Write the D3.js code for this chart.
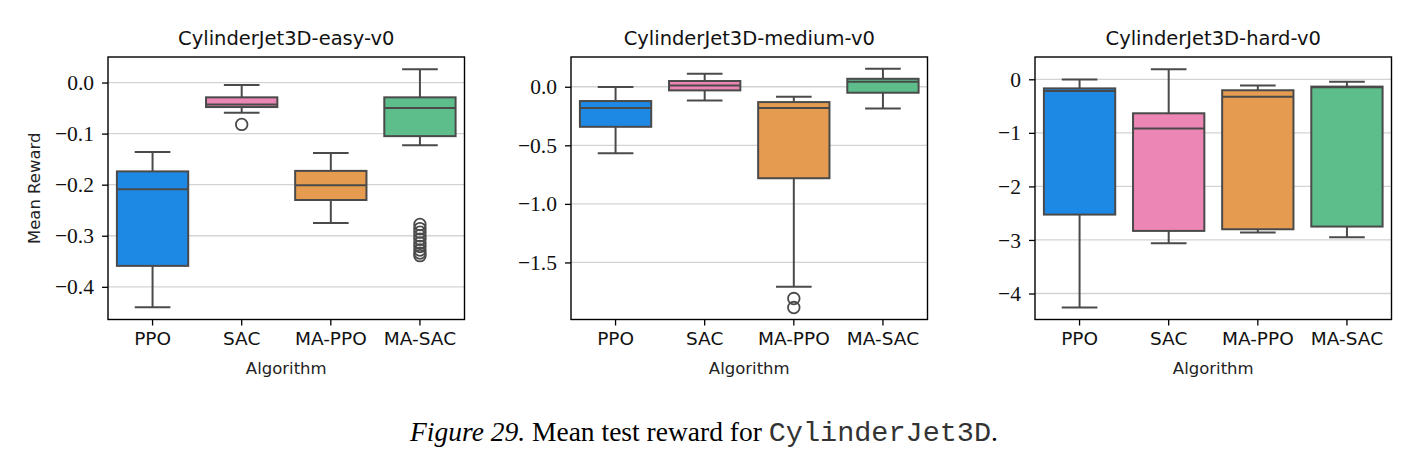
<!DOCTYPE html>
<html>
<head>
<meta charset="utf-8">
<script src="https://cdn.jsdelivr.net/npm/d3@7"></script>
<style>
  html, body { margin: 0; padding: 0; background: #ffffff; }
  svg { display: block; }
</style>
</head>
<body>
<svg id="chart" width="1414" height="461"></svg>
<script>
// ---------------- DATA ----------------
const algorithms = ["PPO", "SAC", "MA-PPO", "MA-SAC"];
const colors = ["#1e88e5", "#ec87b5", "#e59c50", "#5dbd8b"];
const panelTitles = ["CylinderJet3D-easy-v0", "CylinderJet3D-medium-v0", "CylinderJet3D-hard-v0"];

// easy
const easyLow    = [-0.440, -0.059, -0.275, -0.123];
const easyQ1     = [-0.359, -0.048, -0.230, -0.105];
const easyMedian = [-0.209, -0.043, -0.201, -0.050];
const easyQ3     = [-0.174, -0.029, -0.173, -0.029];
const easyHigh   = [-0.136, -0.005, -0.138,  0.026];
const easyOutliers = [[], [-0.082], [], [-0.278, -0.286, -0.293, -0.300, -0.307, -0.314, -0.321, -0.328, -0.334, -0.339]];
const easyTicks = [0.0, -0.1, -0.2, -0.3, -0.4];
const easyTickLabels = ["0.0", "\u22120.1", "\u22120.2", "\u22120.3", "\u22120.4"];
const easyDomain = [-0.464, 0.050];

// medium
const mediumLow    = [-0.567, -0.117, -1.708, -0.186];
const mediumQ1     = [-0.342, -0.031, -0.781, -0.051];
const mediumMedian = [-0.182,  0.011, -0.182,  0.043];
const mediumQ3     = [-0.122,  0.049, -0.131,  0.068];
const mediumHigh   = [-0.003,  0.111, -0.086,  0.154];
const mediumOutliers = [[], [], [-1.808, -1.885], []];
const mediumTicks = [0.0, -0.5, -1.0, -1.5];
const mediumTickLabels = ["0.0", "\u22120.5", "\u22121.0", "\u22121.5"];
const mediumDomain = [-1.987, 0.254];

// hard
const hardLow    = [-4.261, -3.061, -2.862, -2.949];
const hardQ1     = [-2.526, -2.831, -2.800, -2.750];
const hardMedian = [-0.220, -0.921, -0.324, -0.149];
const hardQ3     = [-0.170, -0.635, -0.205, -0.137];
const hardHigh   = [-0.006,  0.187, -0.118, -0.044];
const hardOutliers = [[], [], [], []];
const hardTicks = [0, -1, -2, -3, -4];
const hardTickLabels = ["0", "\u22121", "\u22122", "\u22123", "\u22124"];
const hardDomain = [-4.485, 0.416];

const panels = [
  { title: panelTitles[0], low: easyLow, q1: easyQ1, med: easyMedian, q3: easyQ3, high: easyHigh, out: easyOutliers, ticks: easyTicks, labels: easyTickLabels, domain: easyDomain, left: 108, ylabel: true },
  { title: panelTitles[1], low: mediumLow, q1: mediumQ1, med: mediumMedian, q3: mediumQ3, high: mediumHigh, out: mediumOutliers, ticks: mediumTicks, labels: mediumTickLabels, domain: mediumDomain, left: 571, ylabel: false },
  { title: panelTitles[2], low: hardLow, q1: hardQ1, med: hardMedian, q3: hardQ3, high: hardHigh, out: hardOutliers, ticks: hardTicks, labels: hardTickLabels, domain: hardDomain, left: 1035, ylabel: false }
];

// ---------------- LAYOUT ----------------
const plotW = 356.5, plotTop = 57, plotBottom = 319.5;
const lineColor = "#4a4a4a";
const sans = "'DejaVu Sans', sans-serif";
const serif = "'Liberation Serif', serif";

const svg = d3.select("#chart");

panels.forEach(p => {
  const g = svg.append("g");
  const x = d3.scaleBand().domain(algorithms).range([p.left, p.left + plotW]).padding(0);
  const y = d3.scaleLinear().domain(p.domain).range([plotBottom, plotTop]);
  const bw = x.bandwidth() * 0.8;
  const cx = a => x(a) + x.bandwidth() / 2;

  // grid
  g.append("g").selectAll("line").data(p.ticks).join("line")
    .attr("x1", p.left).attr("x2", p.left + plotW)
    .attr("y1", d => y(d)).attr("y2", d => y(d))
    .attr("stroke", "#d3d3d3").attr("stroke-width", 1.3);

  // y axis
  const yAxis = d3.axisLeft(y).tickValues(p.ticks).tickSize(6).tickPadding(8)
    .tickFormat((d, i) => p.labels[i]);
  const ya = g.append("g").attr("transform", `translate(${p.left},0)`).call(yAxis);
  ya.select(".domain").remove();
  ya.selectAll(".tick line").attr("stroke", "#000").attr("stroke-width", 1.3);
  ya.selectAll(".tick text").attr("font-family", serif).attr("font-size", 21.5).attr("fill", "#111").attr("dy", "0.33em");

  // x axis
  const xAxis = d3.axisBottom(x).tickSize(6).tickPadding(6);
  const xa = g.append("g").attr("transform", `translate(0,${plotBottom})`).call(xAxis);
  xa.select(".domain").remove();
  xa.selectAll(".tick line").attr("stroke", "#000").attr("stroke-width", 1.3);
  xa.selectAll(".tick text").attr("font-family", sans).attr("font-size", 18.5).attr("fill", "#111");

  // boxes
  algorithms.forEach((a, i) => {
    const c = cx(a);
    g.append("line").attr("x1", c).attr("x2", c).attr("y1", y(p.q3[i])).attr("y2", y(p.high[i]))
      .attr("stroke", lineColor).attr("stroke-width", 2);
    g.append("line").attr("x1", c).attr("x2", c).attr("y1", y(p.q1[i])).attr("y2", y(p.low[i]))
      .attr("stroke", lineColor).attr("stroke-width", 2);
    [p.high[i], p.low[i]].forEach(v => {
      g.append("line").attr("x1", c - bw / 4).attr("x2", c + bw / 4).attr("y1", y(v)).attr("y2", y(v))
        .attr("stroke", lineColor).attr("stroke-width", 2);
    });
    g.append("rect").attr("x", c - bw / 2).attr("width", bw)
      .attr("y", y(p.q3[i])).attr("height", y(p.q1[i]) - y(p.q3[i]))
      .attr("fill", colors[i]).attr("stroke", lineColor).attr("stroke-width", 2);
    g.append("line").attr("x1", c - bw / 2).attr("x2", c + bw / 2).attr("y1", y(p.med[i])).attr("y2", y(p.med[i]))
      .attr("stroke", lineColor).attr("stroke-width", 2);
    g.append("g").selectAll("circle").data(p.out[i]).join("circle")
      .attr("cx", c).attr("cy", d => y(d)).attr("r", 5.8)
      .attr("fill", "none").attr("stroke", lineColor).attr("stroke-width", 1.8);
  });

  // frame
  g.append("rect").attr("x", p.left).attr("y", plotTop).attr("width", plotW).attr("height", plotBottom - plotTop)
    .attr("fill", "none").attr("stroke", "#000").attr("stroke-width", 1.4);

  // title
  g.append("text").attr("x", p.left + plotW / 2).attr("y", 45).attr("text-anchor", "middle")
    .attr("font-family", sans).attr("font-size", 19.5).attr("fill", "#111").text(p.title);

  // x label
  g.append("text").attr("x", p.left + plotW / 2).attr("y", 374).attr("text-anchor", "middle")
    .attr("font-family", sans).attr("font-size", 16.5).attr("fill", "#222").text("Algorithm");

  if (p.ylabel) {
    g.append("text").attr("transform", `translate(40,${(plotTop + plotBottom) / 2}) rotate(-90)`)
      .attr("text-anchor", "middle").attr("font-family", sans).attr("font-size", 16.5).attr("fill", "#222")
      .text("Mean Reward");
  }
});

// caption
const cap = svg.append("text").attr("x", 704).attr("y", 441).attr("text-anchor", "middle")
  .attr("font-family", serif).attr("font-size", 27.5).attr("fill", "#000");
cap.append("tspan").attr("font-style", "italic").text("Figure 29.");
cap.append("tspan").text(" Mean test reward for ");
cap.append("tspan").attr("font-family", "'Liberation Mono', monospace").attr("font-size", 28.5).attr("fill", "#333").text("CylinderJet3D");
cap.append("tspan").text(".");
</script>
</body>
</html>
